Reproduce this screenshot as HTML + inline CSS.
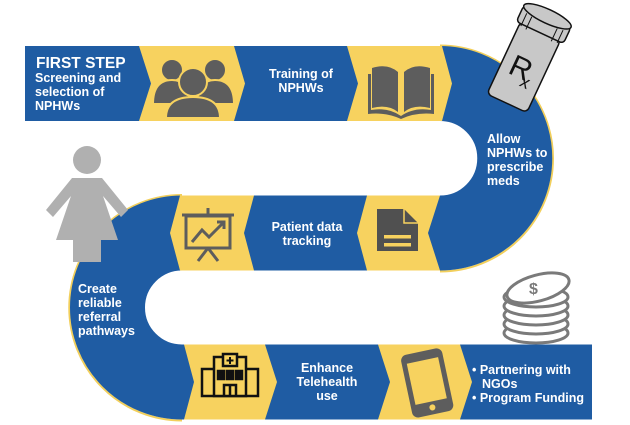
<!DOCTYPE html>
<html><head><style>
html,body{margin:0;padding:0;background:#fff;width:630px;height:425px;overflow:hidden}
svg text{font-family:"Liberation Sans",sans-serif;font-weight:bold;fill:#fff}
</style></head><body>
<svg width="630" height="425" viewBox="0 0 630 425" xmlns="http://www.w3.org/2000/svg">
<!-- snake -->
<path d="M440,45.5 A113,113 0 0 1 440,271.5 M182,195 A112.5,112.5 0 0 0 182,420.5" fill="none" stroke="#f2cf5b" stroke-width="2"/>
<path d="M25,83.5 H440 A74.5,74.5 0 0 1 440,233 H182 A74.5,74.5 0 0 0 182,382 H592" fill="none" stroke="#1f5ca3" stroke-width="75"/>
<!-- yellow chevrons -->
<g fill="#f7d25f">
<polygon points="139,46 234,46 245,83.5 234,121 139,121 151,83.5"/>
<polygon points="347,46 442,46 452,83.5 442,121 347,121 358,83.5"/>
<polygon points="180,195.5 254,195.5 244,233 254,270.5 180,270.5 170,233"/>
<polygon points="367,195.5 440,195.5 428,233 440,270.5 367,270.5 357,233"/>
<polygon points="184,344.5 265,344.5 277,382 265,419.5 184,419.5 194,382"/>
<polygon points="378,344.5 460,344.5 472,382 460,419.5 378,419.5 390,382"/>
</g>
<!-- texts -->
<text x="36" y="68" font-size="15.5">FIRST STEP</text>
<text x="35" y="82" font-size="12.5">Screening and</text>
<text x="35" y="96" font-size="12.5">selection of</text>
<text x="35" y="110" font-size="12.5">NPHWs</text>
<text x="301" y="78" font-size="12.5" text-anchor="middle">Training of</text>
<text x="301" y="92" font-size="12.5" text-anchor="middle">NPHWs</text>
<text x="487" y="143" font-size="12.5">Allow</text>
<text x="487" y="157" font-size="12.5">NPHWs to</text>
<text x="487" y="171" font-size="12.5">prescribe</text>
<text x="487" y="185" font-size="12.5">meds</text>
<text x="307" y="231" font-size="12.5" text-anchor="middle">Patient data</text>
<text x="307" y="245" font-size="12.5" text-anchor="middle">tracking</text>
<text x="78" y="293" font-size="12.5">Create</text>
<text x="78" y="307" font-size="12.5">reliable</text>
<text x="78" y="321" font-size="12.5">referral</text>
<text x="78" y="335" font-size="12.5">pathways</text>
<text x="327" y="372" font-size="12.5" text-anchor="middle">Enhance</text>
<text x="327" y="386" font-size="12.5" text-anchor="middle">Telehealth</text>
<text x="327" y="400" font-size="12.5" text-anchor="middle">use</text>
<text x="472" y="374" font-size="12.5">• Partnering with</text>
<text x="482" y="388" font-size="12.5">NGOs</text>
<text x="472" y="402" font-size="12.5">• Program Funding</text>
<!-- people icon -->
<g fill="#5d5d5d" stroke="#f7d25f" stroke-width="2">
<circle cx="172" cy="70" r="11"/><path d="M153,104 Q153,80 172,80 Q190,80 190,104 Z"/>
<circle cx="215" cy="70" r="11"/><path d="M197,104 Q197,80 215,80 Q234,80 234,104 Z"/>
<circle cx="193" cy="82" r="14"/><path d="M166,118 Q166,97 193,97 Q220,97 220,118 Z"/>
</g>
<!-- book -->
<g fill="#5d5d5d">
<path d="M372,68 Q388,63 398,72 V112 Q388,104 372,108 Z"/>
<path d="M430,68 Q414,63 404,72 V112 Q414,104 430,108 Z"/>
<path d="M368,74 h3 v36 q17,-3 30,6 q13,-9 30,-6 v-36 h3 v40 q-18,-2 -33,5 q-15,-7 -33,-5 Z"/>
</g>
<!-- bottle -->
<g transform="translate(528,58) rotate(25)">
<rect x="-22" y="-30" width="44" height="80" rx="5" fill="#c8c8c8" stroke="#111" stroke-width="1.5"/>
<rect x="-26" y="-46" width="52" height="18" rx="4" fill="#c8c8c8" stroke="#111" stroke-width="1.5"/>
<ellipse cx="0" cy="-46" rx="26" ry="7" fill="#c8c8c8" stroke="#111" stroke-width="1.5"/>
<path d="M-20,-40 v14 M-14,-39 v14 M14,-39 v14 M20,-40 v14" stroke="#111" stroke-width="1"/>
<text x="-13" y="22" font-size="30" style="fill:#111;font-weight:normal">R</text>
<text x="3" y="29" font-size="18" style="fill:#111;font-weight:normal">x</text>
</g>
<!-- woman -->
<g fill="#b0b0b0">
<circle cx="87" cy="160" r="14"/>
<path d="M72,178 H102 L128,210 L121,217 L103,196 L118,240 H101 V262 H73 V240 H56 L71,196 L53,217 L46,210 Z"/>
</g>
<!-- chart -->
<g fill="none" stroke="#5d5d5d" stroke-width="3">
<rect x="186" y="216" width="44" height="32" fill="#f7d25f"/>
<line x1="182" y1="215" x2="234" y2="215"/>
<line x1="208" y1="208" x2="208" y2="215"/>
<path d="M208,248 L198,261 M208,248 L218,261"/>
<path d="M192,242 L202,230 L209,237 L223,223"/>
<path d="M217,222 H224 V229"/>
</g>
<!-- doc -->
<g fill="#505050">
<path d="M377,209 H404 L418,223 V251 H377 Z"/>
<rect x="384" y="235" width="27" height="3.5" fill="#f7d25f"/>
<rect x="384" y="243" width="27" height="3.5" fill="#f7d25f"/>
<path d="M404,209 V223 H418" fill="none" stroke="#f7d25f" stroke-width="1.5"/>
</g>
<!-- coins -->
<g fill="#fff" stroke="#7a7a7a" stroke-width="3">
<ellipse cx="536" cy="333" rx="32" ry="10"/>
<ellipse cx="536" cy="324" rx="32" ry="10"/>
<ellipse cx="536" cy="315" rx="32" ry="10"/>
<ellipse cx="536" cy="306" rx="32" ry="10"/>
<ellipse cx="536" cy="297" rx="32" ry="10"/>
<ellipse cx="538" cy="288" rx="32" ry="13" transform="rotate(-15 538 288)"/>
<text x="529" y="294" font-size="16" style="fill:#7a7a7a;stroke:none">$</text>
</g>
<!-- hospital -->
<g fill="none" stroke="#111" stroke-width="2.5">
<rect x="202" y="369" width="56" height="27"/>
<rect x="214" y="357" width="32" height="39" fill="#f7d25f"/>
<rect x="223" y="354" width="14" height="12" fill="#f7d25f"/>
<path d="M230,357 v7 M226.5,360.5 h7" stroke-width="2"/>
<rect x="218" y="371" width="6" height="8" fill="#111"/>
<rect x="227" y="371" width="6" height="8" fill="#111"/>
<rect x="236" y="371" width="6" height="8" fill="#111"/>
<path d="M224,396 v-11 h12 v11 M230,385 v11"/>
</g>
<!-- phone -->
<g transform="rotate(-12 427 382)">
<rect x="406" y="351" width="42" height="64" rx="6" fill="#5d5d5d"/>
<rect x="411" y="360" width="32" height="42" fill="#f7d25f"/>
<circle cx="427" cy="408" r="3" fill="#f7d25f"/>
</g>
</svg>
</body></html>
